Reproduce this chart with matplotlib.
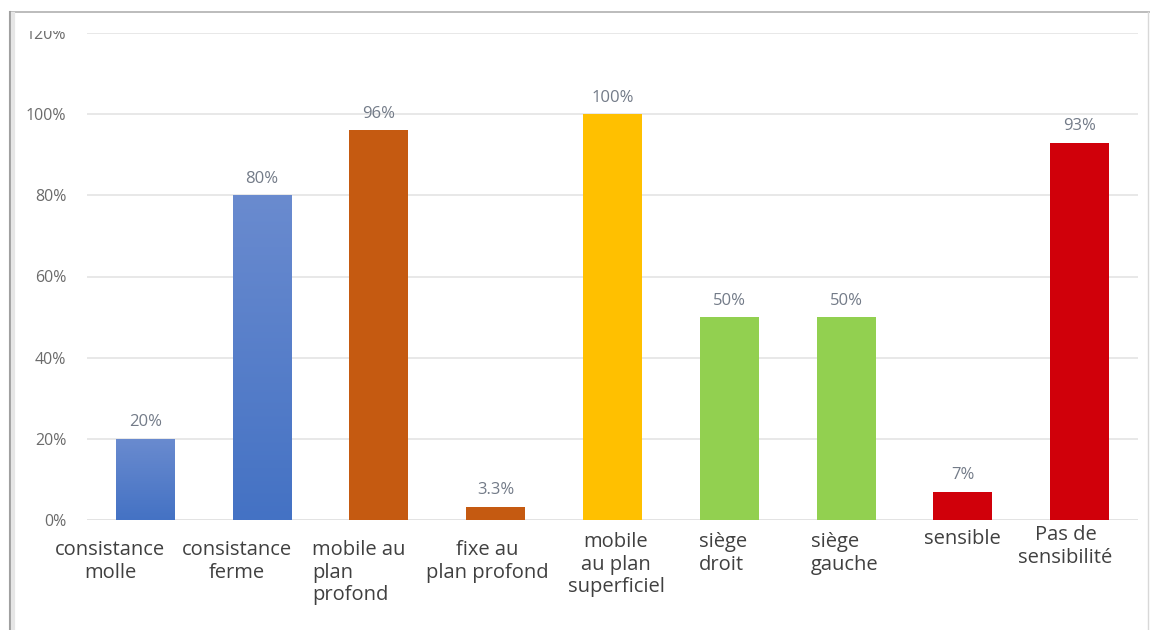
import numpy as np
import matplotlib.pyplot as plt
from matplotlib.colors import LinearSegmentedColormap
from matplotlib.patches import Rectangle
from matplotlib.transforms import blended_transform_factory

plt.rcParams['font.family'] = ['Open Sans', 'DejaVu Sans']

categories = ["consistance\nmolle", "consistance\nferme", "mobile au\nplan\nprofond",
              "fixe au\nplan profond", "mobile\nau plan\nsuperficiel", "siège\ndroit",
              "siège\ngauche", "sensible", "Pas de\nsensibilité"]
values = [20, 80, 96, 3.3, 100, 50, 50, 7, 93]
value_labels = ["20%", "80%", "96%", "3.3%", "100%", "50%", "50%", "7%", "93%"]
yticks = [0, 20, 40, 60, 80, 100, 120]

colors = ["#4472C4", "#4472C4", "#C55A11", "#C55A11", "#FFC000",
          "#92D050", "#92D050", "#D0000A", "#D0000A"]
gradient = [True, True, False, False, False, False, False, False, False]

# label placement: offset from bar centre (data units), alignment, top y (px)
lab_dx = [-0.30, -0.22, -0.57, -0.07, 0.03, -0.26, -0.30, 0.0, -0.12]
lab_ha = ["center", "center", "left", "center", "center", "left", "left", "center", "center"]
lab_y = [540, 540, 540, 540, 532, 532, 532, 529, 525]

W, H = 1150, 630
fig = plt.figure(figsize=(W / 100, H / 100), dpi=100)
ax = fig.add_axes([87 / W, 1 - 520 / H, (1138 - 87) / W, (520 - 33) / H])

x = np.arange(len(values))
bw = 0.505
bars = ax.bar(x, values, width=bw, color=colors, zorder=2)

# blue bars are shaded light at the top to darker at the base
cmap = LinearSegmentedColormap.from_list("blue_grad", ["#4472C4", "#6A8BCF"])
for b, g in zip(bars, gradient):
    if not g:
        continue
    x0, h = b.get_x(), b.get_height()
    b.set_facecolor("none")
    grad = np.linspace(0, 1, 256).reshape(-1, 1)
    im = ax.imshow(grad, extent=[x0, x0 + bw, 0, h], origin="lower", cmap=cmap,
                   aspect="auto", zorder=2)
    im.set_clip_path(b)

for xi, v, lab in zip(x, values, value_labels):
    ax.annotate(lab, (xi, v), xytext=(0, 6), textcoords="offset points",
                ha="center", va="bottom", fontsize=12, color="#737b88")

ax.set_xlim(-0.5, len(values) - 0.5)
ax.set_ylim(0, 120)
ax.set_yticks(yticks)
ax.set_yticklabels([f"{t}%" for t in yticks], fontsize=11.5, color="#6b6b6b")
ax.tick_params(axis="y", length=0, pad=15)
ax.set_xticks([])
ax.grid(axis="y", color="#e4e4e4", linewidth=1.2, zorder=0)
for s in ax.spines.values():
    s.set_visible(False)
ax.axhline(0, color="#dcdcdc", linewidth=1.2, zorder=1)

trans = blended_transform_factory(ax.transData, fig.transFigure)
for xi, lab, dx, ha, py in zip(x, categories, lab_dx, lab_ha, lab_y):
    ax.text(xi + dx, 1 - py / H, lab, transform=trans, fontsize=14.5, color="#404040",
            ha=ha, va="top", multialignment=ha, linespacing=1.17)

# white strip on top cuts through the top tick label, then the frame
fig.patches.append(Rectangle((0, 1 - 31 / H), 1, 31 / H, transform=fig.transFigure,
                             facecolor="white", edgecolor="none", zorder=5))
fig.lines.append(plt.Line2D([10 / W, 1], [1 - 12 / H, 1 - 12 / H], transform=fig.transFigure,
                            color="#b0b0b0", linewidth=1.2, zorder=6))
fig.lines.append(plt.Line2D([10 / W, 10 / W], [0, 1 - 12 / H], transform=fig.transFigure,
                            color="#a0a0a0", linewidth=1.5, zorder=6))
fig.lines.append(plt.Line2D([13 / W, 13 / W], [0, 1 - 14 / H], transform=fig.transFigure,
                            color="#e6e6e6", linewidth=3, zorder=6))
fig.lines.append(plt.Line2D([1148 / W, 1148 / W], [0, 1 - 12 / H], transform=fig.transFigure,
                            color="#d8d8d8", linewidth=1, zorder=6))

fig.savefig("out.png", dpi=100)
